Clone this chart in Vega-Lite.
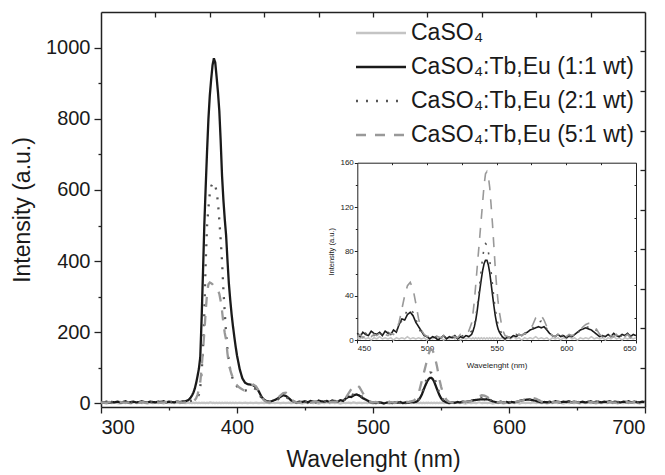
{
  "$schema": "https://vega.github.io/schema/vega-lite/v6.json",
  "width": 544,
  "height": 395,
  "autosize": "none",
  "padding": {"left": 101, "top": 12, "right": 20, "bottom": 68},
  "background": "white",
  "data": {"values": [
    {"nm":300,"p":1,"b":4,"c":3,"d":2},{"nm":302,"p":2,"b":3,"c":4,"d":3},{"nm":304,"p":0,"b":5,"c":2,"d":2},{"nm":306,"p":2,"b":2,"c":3,"d":4},
    {"nm":308,"p":1,"b":4,"c":4,"d":2},{"nm":310,"p":3,"b":3,"c":2,"d":3},{"nm":312,"p":1,"b":5,"c":3,"d":2},{"nm":314,"p":0,"b":3,"c":4,"d":4},
    {"nm":316,"p":2,"b":4,"c":2,"d":3},{"nm":318,"p":1,"b":6,"c":3,"d":2},{"nm":320,"p":2,"b":3,"c":4,"d":3},{"nm":322,"p":0,"b":4,"c":3,"d":4},
    {"nm":324,"p":3,"b":5,"c":2,"d":2},{"nm":326,"p":1,"b":3,"c":3,"d":3},{"nm":328,"p":2,"b":4,"c":4,"d":2},{"nm":330,"p":1,"b":6,"c":3,"d":4},
    {"nm":332,"p":2,"b":4,"c":2,"d":3},{"nm":334,"p":0,"b":3,"c":3,"d":2},{"nm":336,"p":2,"b":5,"c":4,"d":3},{"nm":338,"p":1,"b":4,"c":3,"d":4},
    {"nm":340,"p":3,"b":3,"c":2,"d":2},{"nm":342,"p":1,"b":5,"c":3,"d":3},{"nm":344,"p":2,"b":4,"c":4,"d":2},{"nm":346,"p":0,"b":6,"c":3,"d":3},
    {"nm":348,"p":2,"b":3,"c":2,"d":4},{"nm":350,"p":1,"b":5,"c":3,"d":3},{"nm":352,"p":2,"b":4,"c":4,"d":2},{"nm":354,"p":1,"b":3,"c":3,"d":3},
    {"nm":356,"p":3,"b":5,"c":2,"d":4},{"nm":358,"p":1,"b":4,"c":3,"d":3},{"nm":360,"p":2,"b":6,"c":4,"d":2},{"nm":362,"p":1,"b":6,"c":4,"d":3},
    {"nm":364,"p":2,"b":9,"c":5,"d":3},{"nm":365,"p":1,"b":12,"c":6,"d":4},{"nm":366,"p":2,"b":17,"c":7,"d":4},{"nm":367,"p":1,"b":23,"c":8,"d":5},
    {"nm":368,"p":2,"b":31,"c":10,"d":6},{"nm":369,"p":1,"b":42,"c":12,"d":10},{"nm":370,"p":2,"b":58,"c":15,"d":15},{"nm":371,"p":1,"b":77,"c":19,"d":25},
    {"nm":372,"p":2,"b":98,"c":25,"d":40},{"nm":373,"p":1,"b":130,"c":45,"d":60},{"nm":374,"p":2,"b":240,"c":90,"d":100},{"nm":375,"p":1,"b":370,"c":150,"d":150},
    {"nm":376,"p":2,"b":505,"c":260,"d":200},{"nm":377,"p":1,"b":610,"c":400,"d":260},{"nm":378,"p":2,"b":710,"c":500,"d":310},{"nm":379,"p":1,"b":800,"c":550,"d":335},
    {"nm":380,"p":3,"b":865,"c":590,"d":340},{"nm":381,"p":2,"b":910,"c":610,"d":338},{"nm":382,"p":1,"b":950,"c":618,"d":335},{"nm":383,"p":2,"b":970,"c":620,"d":330},
    {"nm":384,"p":1,"b":958,"c":612,"d":326},{"nm":385,"p":2,"b":918,"c":595,"d":322},{"nm":386,"p":1,"b":875,"c":565,"d":318},{"nm":387,"p":2,"b":822,"c":515,"d":308},
    {"nm":388,"p":1,"b":738,"c":460,"d":288},{"nm":389,"p":2,"b":640,"c":400,"d":260},{"nm":390,"p":1,"b":572,"c":320,"d":225},{"nm":391,"p":2,"b":518,"c":255,"d":198},
    {"nm":392,"p":1,"b":472,"c":195,"d":178},{"nm":393,"p":2,"b":402,"c":150,"d":140},{"nm":394,"p":1,"b":338,"c":120,"d":112},{"nm":395,"p":2,"b":292,"c":96,"d":95},
    {"nm":396,"p":1,"b":252,"c":80,"d":82},{"nm":397,"p":2,"b":218,"c":68,"d":72},{"nm":398,"p":1,"b":188,"c":59,"d":63},{"nm":399,"p":2,"b":160,"c":53,"d":56},
    {"nm":400,"p":1,"b":135,"c":48,"d":51},{"nm":402,"p":2,"b":96,"c":42,"d":44},{"nm":404,"p":1,"b":70,"c":38,"d":39},{"nm":406,"p":2,"b":58,"c":36,"d":36},
    {"nm":408,"p":1,"b":54,"c":38,"d":41},{"nm":410,"p":2,"b":53,"c":42,"d":49},{"nm":412,"p":1,"b":51,"c":44,"d":53},{"nm":414,"p":2,"b":45,"c":40,"d":48},
    {"nm":416,"p":1,"b":34,"c":28,"d":35},{"nm":418,"p":2,"b":19,"c":15,"d":18},{"nm":420,"p":1,"b":10,"c":8,"d":8},{"nm":422,"p":2,"b":6,"c":5,"d":4},
    {"nm":424,"p":1,"b":5,"c":4,"d":3},{"nm":426,"p":2,"b":7,"c":6,"d":5},{"nm":428,"p":1,"b":10,"c":8,"d":9},{"nm":430,"p":2,"b":14,"c":11,"d":15},
    {"nm":432,"p":1,"b":19,"c":16,"d":23},{"nm":434,"p":2,"b":23,"c":19,"d":29},{"nm":436,"p":1,"b":21,"c":18,"d":30},{"nm":438,"p":2,"b":15,"c":13,"d":23},
    {"nm":440,"p":1,"b":8,"c":7,"d":12},{"nm":442,"p":2,"b":5,"c":4,"d":5},{"nm":444,"p":1,"b":3,"c":3,"d":3},{"nm":446,"p":2,"b":5,"c":4,"d":2},
    {"nm":448,"p":0,"b":4,"c":3,"d":4},{"nm":450,"p":2,"b":6,"c":5,"d":3},{"nm":452,"p":1,"b":3,"c":4,"d":5},{"nm":454,"p":3,"b":7,"c":3,"d":2},
    {"nm":456,"p":1,"b":5,"c":6,"d":4},{"nm":458,"p":2,"b":4,"c":3,"d":6},{"nm":460,"p":0,"b":8,"c":5,"d":3},{"nm":462,"p":2,"b":6,"c":4,"d":5},
    {"nm":464,"p":1,"b":5,"c":7,"d":4},{"nm":466,"p":3,"b":7,"c":5,"d":6},{"nm":468,"p":1,"b":4,"c":6,"d":3},{"nm":470,"p":2,"b":8,"c":4,"d":5},
    {"nm":472,"p":1,"b":6,"c":7,"d":4},{"nm":474,"p":2,"b":5,"c":5,"d":6},{"nm":476,"p":0,"b":9,"c":6,"d":5},{"nm":478,"p":2,"b":7,"c":8,"d":9},
    {"nm":480,"p":1,"b":14,"c":12,"d":16},{"nm":482,"p":2,"b":19,"c":18,"d":28},{"nm":484,"p":1,"b":18,"c":22,"d":40},{"nm":486,"p":3,"b":23,"c":27,"d":49},
    {"nm":488,"p":1,"b":25,"c":28,"d":52},{"nm":490,"p":2,"b":22,"c":25,"d":46},{"nm":492,"p":1,"b":16,"c":19,"d":33},{"nm":494,"p":2,"b":12,"c":11,"d":19},
    {"nm":496,"p":1,"b":8,"c":6,"d":9},{"nm":498,"p":2,"b":4,"c":4,"d":5},{"nm":500,"p":0,"b":3,"c":3,"d":3},{"nm":502,"p":2,"b":1,"c":2,"d":4},
    {"nm":504,"p":1,"b":3,"c":4,"d":2},{"nm":506,"p":3,"b":2,"c":3,"d":4},{"nm":508,"p":1,"b":0,"c":2,"d":3},{"nm":510,"p":2,"b":2,"c":4,"d":2},
    {"nm":512,"p":0,"b":4,"c":3,"d":4},{"nm":514,"p":2,"b":1,"c":2,"d":3},{"nm":516,"p":1,"b":3,"c":4,"d":2},{"nm":518,"p":3,"b":2,"c":3,"d":4},
    {"nm":520,"p":1,"b":4,"c":2,"d":3},{"nm":522,"p":2,"b":1,"c":4,"d":2},{"nm":524,"p":0,"b":3,"c":3,"d":5},{"nm":526,"p":2,"b":2,"c":4,"d":4},
    {"nm":528,"p":1,"b":4,"c":5,"d":6},{"nm":530,"p":2,"b":3,"c":6,"d":8},{"nm":532,"p":1,"b":5,"c":8,"d":15},{"nm":533,"p":2,"b":8,"c":10,"d":24},
    {"nm":534,"p":1,"b":12,"c":14,"d":35},{"nm":535,"p":2,"b":18,"c":20,"d":50},{"nm":536,"p":1,"b":26,"c":30,"d":65},{"nm":537,"p":2,"b":36,"c":40,"d":80},
    {"nm":538,"p":1,"b":46,"c":52,"d":95},{"nm":539,"p":2,"b":55,"c":64,"d":110},{"nm":540,"p":1,"b":63,"c":75,"d":125},{"nm":541,"p":2,"b":69,"c":83,"d":140},
    {"nm":542,"p":1,"b":72,"c":87,"d":150},{"nm":543,"p":2,"b":72,"c":86,"d":152},{"nm":544,"p":1,"b":68,"c":80,"d":148},{"nm":545,"p":2,"b":61,"c":72,"d":138},
    {"nm":546,"p":1,"b":51,"c":62,"d":122},{"nm":547,"p":2,"b":41,"c":50,"d":105},{"nm":548,"p":1,"b":31,"c":38,"d":85},{"nm":549,"p":2,"b":22,"c":28,"d":65},
    {"nm":550,"p":1,"b":15,"c":20,"d":48},{"nm":551,"p":2,"b":10,"c":14,"d":35},{"nm":552,"p":1,"b":7,"c":10,"d":25},{"nm":554,"p":2,"b":3,"c":5,"d":10},
    {"nm":556,"p":0,"b":1,"c":3,"d":4},{"nm":558,"p":2,"b":3,"c":2,"d":3},{"nm":560,"p":1,"b":2,"c":4,"d":2},{"nm":562,"p":3,"b":4,"c":3,"d":4},
    {"nm":564,"p":1,"b":3,"c":5,"d":3},{"nm":566,"p":2,"b":5,"c":4,"d":5},{"nm":568,"p":0,"b":4,"c":6,"d":4},{"nm":570,"p":2,"b":6,"c":5,"d":6},
    {"nm":572,"p":1,"b":7,"c":7,"d":6},{"nm":574,"p":2,"b":9,"c":8,"d":9},{"nm":576,"p":1,"b":10,"c":11,"d":14},{"nm":578,"p":3,"b":11,"c":14,"d":20},
    {"nm":580,"p":1,"b":12,"c":16,"d":23},{"nm":582,"p":2,"b":11,"c":17,"d":22},{"nm":584,"p":1,"b":12,"c":15,"d":18},{"nm":586,"p":2,"b":9,"c":10,"d":12},
    {"nm":588,"p":0,"b":6,"c":6,"d":6},{"nm":590,"p":2,"b":4,"c":4,"d":4},{"nm":592,"p":1,"b":3,"c":3,"d":3},{"nm":594,"p":2,"b":5,"c":4,"d":5},
    {"nm":596,"p":0,"b":3,"c":3,"d":2},{"nm":598,"p":2,"b":4,"c":5,"d":4},{"nm":600,"p":1,"b":2,"c":3,"d":3},{"nm":602,"p":3,"b":4,"c":4,"d":5},
    {"nm":604,"p":1,"b":3,"c":3,"d":4},{"nm":606,"p":2,"b":5,"c":5,"d":5},{"nm":608,"p":0,"b":7,"c":7,"d":7},{"nm":610,"p":2,"b":9,"c":8,"d":9},
    {"nm":612,"p":1,"b":10,"c":10,"d":12},{"nm":614,"p":2,"b":11,"c":11,"d":14},{"nm":616,"p":1,"b":10,"c":12,"d":15},{"nm":618,"p":3,"b":9,"c":12,"d":15},
    {"nm":620,"p":1,"b":7,"c":11,"d":13},{"nm":622,"p":2,"b":5,"c":8,"d":9},{"nm":624,"p":1,"b":3,"c":5,"d":5},{"nm":626,"p":2,"b":4,"c":3,"d":3},
    {"nm":628,"p":0,"b":3,"c":4,"d":4},{"nm":630,"p":2,"b":5,"c":3,"d":2},{"nm":632,"p":1,"b":3,"c":4,"d":4},{"nm":634,"p":3,"b":6,"c":3,"d":3},
    {"nm":636,"p":1,"b":4,"c":5,"d":5},{"nm":638,"p":2,"b":3,"c":3,"d":2},{"nm":640,"p":0,"b":5,"c":4,"d":4},{"nm":642,"p":2,"b":4,"c":3,"d":3},
    {"nm":644,"p":1,"b":6,"c":5,"d":5},{"nm":646,"p":2,"b":3,"c":4,"d":2},{"nm":648,"p":1,"b":5,"c":3,"d":4},{"nm":650,"p":2,"b":4,"c":5,"d":3},
    {"nm":652,"p":0,"b":3,"c":3,"d":2},{"nm":654,"p":2,"b":5,"c":4,"d":4},{"nm":656,"p":1,"b":3,"c":3,"d":3},{"nm":658,"p":3,"b":4,"c":5,"d":2},
    {"nm":660,"p":1,"b":6,"c":4,"d":4},{"nm":662,"p":2,"b":3,"c":3,"d":3},{"nm":664,"p":0,"b":5,"c":4,"d":2},{"nm":666,"p":2,"b":4,"c":5,"d":4},
    {"nm":668,"p":1,"b":3,"c":3,"d":3},{"nm":670,"p":2,"b":5,"c":4,"d":5},{"nm":672,"p":1,"b":4,"c":3,"d":2},{"nm":674,"p":3,"b":6,"c":5,"d":4},
    {"nm":676,"p":1,"b":3,"c":4,"d":3},{"nm":678,"p":2,"b":5,"c":3,"d":2},{"nm":680,"p":0,"b":4,"c":4,"d":4},{"nm":682,"p":2,"b":3,"c":5,"d":3},
    {"nm":684,"p":1,"b":5,"c":3,"d":2},{"nm":686,"p":2,"b":4,"c":4,"d":4},{"nm":688,"p":1,"b":6,"c":3,"d":3},{"nm":690,"p":3,"b":3,"c":5,"d":2},
    {"nm":692,"p":1,"b":5,"c":4,"d":4},{"nm":694,"p":2,"b":4,"c":3,"d":3},{"nm":696,"p":0,"b":3,"c":4,"d":2},{"nm":698,"p":2,"b":5,"c":3,"d":4},
    {"nm":700,"p":1,"b":4,"c":4,"d":3}
  ]},
  "transform": [{"fold": ["p", "b", "c", "d"], "as": ["s", "I"]}],
  "config": {
    "view": {"stroke": null},
    "axis": {
      "grid": false,
      "labelFont": "Liberation Sans",
      "titleFont": "Liberation Sans",
      "titleFontWeight": "normal",
      "domainColor": "#222222",
      "tickColor": "#222222",
      "labelColor": "#1a1a1a",
      "titleColor": "#1a1a1a",
      "domainWidth": 1.5,
      "tickWidth": 1.3
    },
    "legend": {
      "orient": "none",
      "legendX": 266,
      "legendY": 7,
      "title": null,
      "symbolType": "M-2,0H2",
      "symbolSize": 625,
      "symbolStrokeWidth": 2.5,
      "labelFont": "Liberation Sans",
      "labelFontSize": 23,
      "labelColor": "#1a1a1a",
      "labelOffset": 16,
      "rowPadding": 8,
      "labelLimit": 400
    }
  },
  "layer": [
    {
      "mark": {"type": "line", "strokeWidth": 2.3, "clip": true},
      "encoding": {
        "x": {"field": "nm", "type": "quantitative",
          "scale": {"domain": [300, 700], "nice": false, "zero": false},
          "axis": {"orient": "bottom", "values": [300, 400, 500, 600, 700], "format": "d", "tickSize": 6,
            "labelFontSize": 20, "labelPadding": 4, "title": "Wavelenght (nm)", "titleFontSize": 23, "titlePadding": 11}},
        "y": {"field": "I", "type": "quantitative",
          "scale": {"domain": [-10, 1100], "nice": false, "zero": false},
          "axis": {"orient": "left", "values": [0, 200, 400, 600, 800, 1000], "format": "d", "tickSize": 7,
            "labelFontSize": 20, "labelPadding": 4, "title": "Intensity (a.u.)", "titleFontSize": 23, "titlePadding": 11}},
        "color": {"field": "s", "type": "nominal",
          "scale": {"domain": ["p", "b", "c", "d"], "range": ["#c4c4c4", "#1a1a1a", "#555555", "#999999"]},
          "legend": {"labelExpr": "{'p': 'CaSO₄', 'b': 'CaSO₄:Tb,Eu (1:1 wt)', 'c': 'CaSO₄:Tb,Eu (2:1 wt)', 'd': 'CaSO₄:Tb,Eu (5:1 wt)'}[datum.value]"}},
        "strokeDash": {"field": "s", "type": "nominal",
          "scale": {"domain": ["p", "b", "c", "d"], "range": [[1, 0], [1, 0], [2, 8], [10, 9]]},
          "legend": {"labelExpr": "{'p': 'CaSO₄', 'b': 'CaSO₄:Tb,Eu (1:1 wt)', 'c': 'CaSO₄:Tb,Eu (2:1 wt)', 'd': 'CaSO₄:Tb,Eu (5:1 wt)'}[datum.value]"}}
      }
    },
    {
      "transform": [{"filter": "datum.nm == 300 && datum.s == 'p'"}],
      "mark": {"type": "point", "opacity": 0},
      "encoding": {
        "x": {"field": "nm", "type": "quantitative",
          "scale": {"domain": [300, 700], "nice": false, "zero": false},
          "axis": {"orient": "bottom", "values": [350, 450, 550, 650], "tickSize": 3, "labels": false, "domain": false, "title": null}},
        "y": {"field": "I", "type": "quantitative",
          "scale": {"domain": [-10, 1100], "nice": false, "zero": false},
          "axis": {"orient": "left", "values": [100, 300, 500, 700, 900], "tickSize": 3, "labels": false, "domain": false, "title": null}}
      }
    },
    {
      "transform": [{"filter": "datum.nm == 300 && datum.s == 'p'"}],
      "mark": {"type": "point", "opacity": 0},
      "encoding": {
        "x": {"field": "nm", "type": "quantitative",
          "scale": {"domain": [300, 700], "nice": false, "zero": false},
          "axis": {"orient": "top", "values": [340, 380, 420, 460, 500, 540, 580, 620, 660], "tickSize": -5, "labels": false, "title": null}},
        "y": {"field": "I", "type": "quantitative",
          "scale": {"domain": [-10, 1100], "nice": false, "zero": false},
          "axis": {"orient": "right", "values": [101, 212, 323, 434, 545, 656, 767, 878, 989], "tickSize": -5, "labels": false, "title": null}}
      }
    },
    {
      "transform": [{"filter": "datum.nm >= 450 && datum.nm <= 650"}],
      "mark": {"type": "line", "strokeWidth": 1.6},
      "encoding": {
        "x": {"field": "nm", "type": "quantitative",
          "scale": {"domain": [450, 650], "nice": false, "zero": false, "range": [256.3, 535]},
          "axis": {"orient": "bottom", "offset": -67, "values": [450, 500, 550, 600, 650], "tickSize": 3,
            "labelFontSize": 8, "labelPadding": 1, "domainWidth": 1, "tickWidth": 1,
            "title": "Wavelenght (nm)", "titleFontSize": 8, "titlePadding": 9}},
        "y": {"field": "I", "type": "quantitative",
          "scale": {"domain": [0, 160], "nice": false, "zero": false, "range": [328, 150.7]},
          "axis": {"orient": "left", "offset": -256.3, "values": [0, 40, 80, 120, 160], "tickSize": 3,
            "labelFontSize": 8, "labelPadding": 1, "domainWidth": 1, "tickWidth": 1,
            "title": "Intensity (a.u.)", "titleFontSize": 7.5, "titlePadding": 4}},
        "color": {"field": "s", "type": "nominal"},
        "strokeDash": {"field": "s", "type": "nominal"}
      }
    },
    {
      "transform": [{"filter": "datum.nm == 450 && datum.s == 'p'"}],
      "mark": {"type": "point", "opacity": 0},
      "encoding": {
        "x": {"field": "nm", "type": "quantitative",
          "scale": {"domain": [450, 650], "nice": false, "zero": false, "range": [256.3, 535]},
          "axis": {"orient": "top", "offset": -150.7, "values": [475, 500, 525, 550, 575, 600, 625], "tickSize": -2,
            "labels": false, "domainWidth": 1, "tickWidth": 1, "title": null}},
        "y": {"field": "I", "type": "quantitative",
          "scale": {"domain": [0, 160], "nice": false, "zero": false, "range": [328, 150.7]},
          "axis": {"orient": "right", "offset": -9, "values": [20, 50, 80, 110, 140], "tickSize": -2,
            "labels": false, "domainWidth": 1, "tickWidth": 1, "title": null}}
      }
    },
    {
      "transform": [{"filter": "datum.nm == 450 && datum.s == 'p'"}],
      "mark": {"type": "point", "opacity": 0},
      "encoding": {
        "x": {"field": "nm", "type": "quantitative",
          "scale": {"domain": [450, 650], "nice": false, "zero": false, "range": [256.3, 535]},
          "axis": {"orient": "bottom", "offset": -67, "values": [475, 525, 575, 625], "tickSize": 2,
            "labels": false, "domain": false, "tickWidth": 1, "title": null}},
        "y": {"field": "I", "type": "quantitative",
          "scale": {"domain": [0, 160], "nice": false, "zero": false, "range": [328, 150.7]},
          "axis": {"orient": "left", "offset": -256.3, "values": [20, 60, 100, 140], "tickSize": 2,
            "labels": false, "domain": false, "tickWidth": 1, "title": null}}
      }
    }
  ],
  "resolve": {
    "scale": {"x": "independent", "y": "independent"},
    "axis": {"x": "independent", "y": "independent"}
  }
}
